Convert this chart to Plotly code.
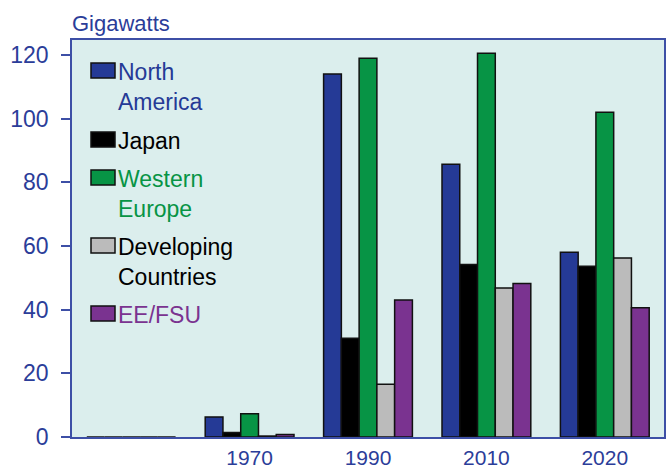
import plotly.graph_objects as go

# Installed generating capacity by region, in gigawatts
years = ["", "1970", "1990", "2010", "2020"]
north_america = [0, 6.3, 114, 85.7, 58]
japan = [0, 1.4, 31, 54.2, 53.6]
western_europe = [0, 7.3, 119, 120.5, 102]
developing = [0, 0.3, 16.6, 46.8, 56.2]
ee_fsu = [0, 0.8, 43, 48.2, 40.6]

region_names = ["North<br>America", "Japan", "Western<br>Europe", "Developing<br>Countries", "EE/FSU"]
region_colors = ["#253a96", "#000000", "#079445", "#bbbbbb", "#7a3390"]
label_colors = ["#253a96", "#000000", "#079445", "#000000", "#7a3390"]
series = [north_america, japan, western_europe, developing, ee_fsu]

y_ticks = [0, 20, 40, 60, 80, 100, 120]

AXIS = "#3d4fa6"
TEXT = "#2b3d99"
FONT = "Liberation Sans, Arial, sans-serif"
FS = 23

fig = go.Figure()
xpos = list(range(len(years)))
for name, color, vals in zip(region_names, region_colors, series):
    fig.add_trace(go.Bar(
        x=xpos, y=vals, name=name.replace("<br>", " "),
        marker=dict(color=color, line=dict(color="#111111", width=1.5)),
        showlegend=False,
    ))

# Hand-drawn legend box inside the plot area
W, H = 669, 472
L, R, T, B = 72, 5, 40, 35
pw, ph = W - L - R, H - T - B

def px(x):
    return (x - L) / pw

def py(y):
    return (H - B - y) / ph

swatch_tops = [63, 132, 170, 238, 306]
shapes = []
annotations = []
for name, color, tcolor, top in zip(region_names, region_colors, label_colors, swatch_tops):
    shapes.append(dict(type="rect", xref="paper", yref="paper",
                       x0=px(91), x1=px(115), y0=py(top), y1=py(top + 15),
                       fillcolor=color, line=dict(color="#111111", width=1.5)))
    for i, line in enumerate(name.split("<br>")):
        annotations.append(dict(
            xref="paper", yref="paper", x=px(116), y=py(top + 9 + 30 * i),
            xanchor="left", yanchor="middle", showarrow=False, text=line,
            font=dict(family=FONT, size=FS, color=tcolor)))

annotations.append(dict(
    xref="paper", yref="paper", x=px(70), y=1, xanchor="left", yanchor="bottom",
    yshift=2, showarrow=False, text="Gigawatts",
    font=dict(family=FONT, size=FS - 1, color=TEXT)))

fig.update_layout(
    width=W, height=H,
    margin=dict(l=L, r=R, t=T, b=B, autoexpand=False),
    paper_bgcolor="white",
    plot_bgcolor="#dbeeed",
    barmode="group",
    bargap=0.25,
    bargroupgap=0,
    font=dict(family=FONT, size=FS, color=TEXT),
    shapes=shapes,
    annotations=annotations,
    xaxis=dict(
        range=[-0.5, 4.5], tickmode="array", tickvals=xpos, ticktext=years,
        showgrid=False, zeroline=False, ticks="", automargin=False,
        showline=True, linecolor=AXIS, linewidth=1.5, mirror=True,
        tickfont=dict(family=FONT, size=FS - 2, color=TEXT),
        ticklabelstandoff=1,
    ),
    yaxis=dict(
        range=[0, 124.7], tickmode="array", tickvals=y_ticks,
        showgrid=False, zeroline=False, automargin=False,
        ticks="outside", ticklen=9, tickcolor=AXIS, tickwidth=1.5,
        showline=True, linecolor=AXIS, linewidth=1.5, mirror=True,
        tickfont=dict(family=FONT, size=FS, color=TEXT),
        ticklabelstandoff=8,
    ),
)

fig.write_html("out.html")
